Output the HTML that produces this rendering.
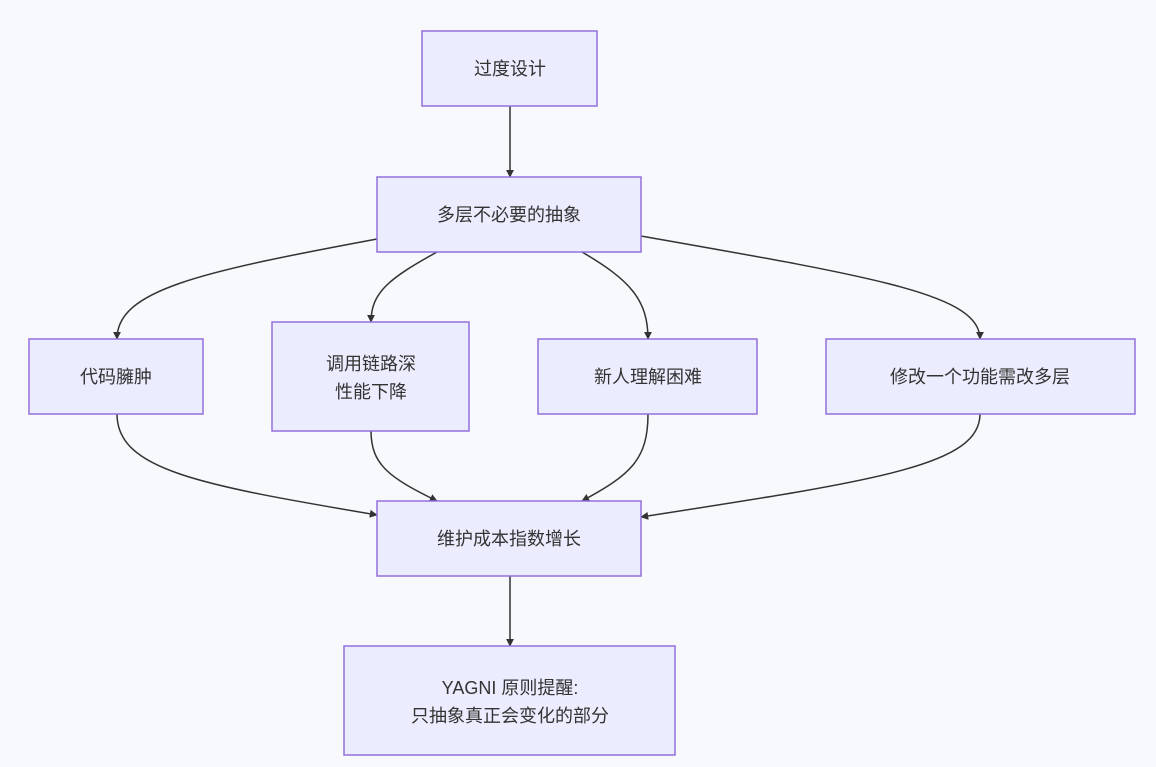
<!DOCTYPE html>
<html><head><meta charset="utf-8"><style>
html,body{margin:0;padding:0;background:#f8f9fc;}
svg{display:block}
text{font-family:"Liberation Sans","Noto Sans CJK SC",sans-serif;font-size:18px;fill:#333;text-anchor:middle;dominant-baseline:central}
rect{fill:#ececff;stroke:#9370db;stroke-width:1.5}
path{fill:none;stroke:#333;stroke-width:1.5}
</style></head><body>
<svg width="1156" height="767" viewBox="0 0 1156 767">
<defs><marker id="a" viewBox="0 0 10 10" refX="9" refY="5" markerWidth="8" markerHeight="8" markerUnits="userSpaceOnUse" orient="auto"><path d="M0,0L10,5L0,10z" style="fill:#333;stroke:none"/></marker></defs>
<path d="M510,106 L510,177" marker-end="url(#a)"/>
<path d="M377,239 C200,272 117,290 117,339" marker-end="url(#a)"/>
<path d="M437,252 C390,278 371,292 371,322" marker-end="url(#a)"/>
<path d="M582,252 C630,280 648,300 648,339" marker-end="url(#a)"/>
<path d="M641,236 C880,278 980,295 980,339" marker-end="url(#a)"/>
<path d="M117,414 C117,470 200,485 377,515" marker-end="url(#a)"/>
<path d="M371,431 C371,465 390,478 437,501" marker-end="url(#a)"/>
<path d="M648,414 C648,460 630,475 582,501" marker-end="url(#a)"/>
<path d="M980,414 C980,465 880,480 641,517" marker-end="url(#a)"/>
<path d="M510,576 L510,646" marker-end="url(#a)"/>
<rect x="422" y="31" width="175" height="75"/><text x="510" y="69">过度设计</text>
<rect x="377" y="177" width="264" height="75"/><text x="509" y="215">多层不必要的抽象</text>
<rect x="29" y="339" width="174" height="75"/><text x="116" y="377">代码臃肿</text>
<rect x="272" y="322" width="197" height="109"/><text x="371" y="364">调用链路深</text><text x="371" y="392">性能下降</text>
<rect x="538" y="339" width="219" height="75"/><text x="648" y="377">新人理解困难</text>
<rect x="826" y="339" width="309" height="75"/><text x="980" y="377">修改一个功能需改多层</text>
<rect x="377" y="501" width="264" height="75"/><text x="509" y="539">维护成本指数增长</text>
<rect x="344" y="646" width="331" height="109"/><text x="510" y="688">YAGNI 原则提醒:</text><text x="510" y="716">只抽象真正会变化的部分</text>
</svg>
</body></html>
